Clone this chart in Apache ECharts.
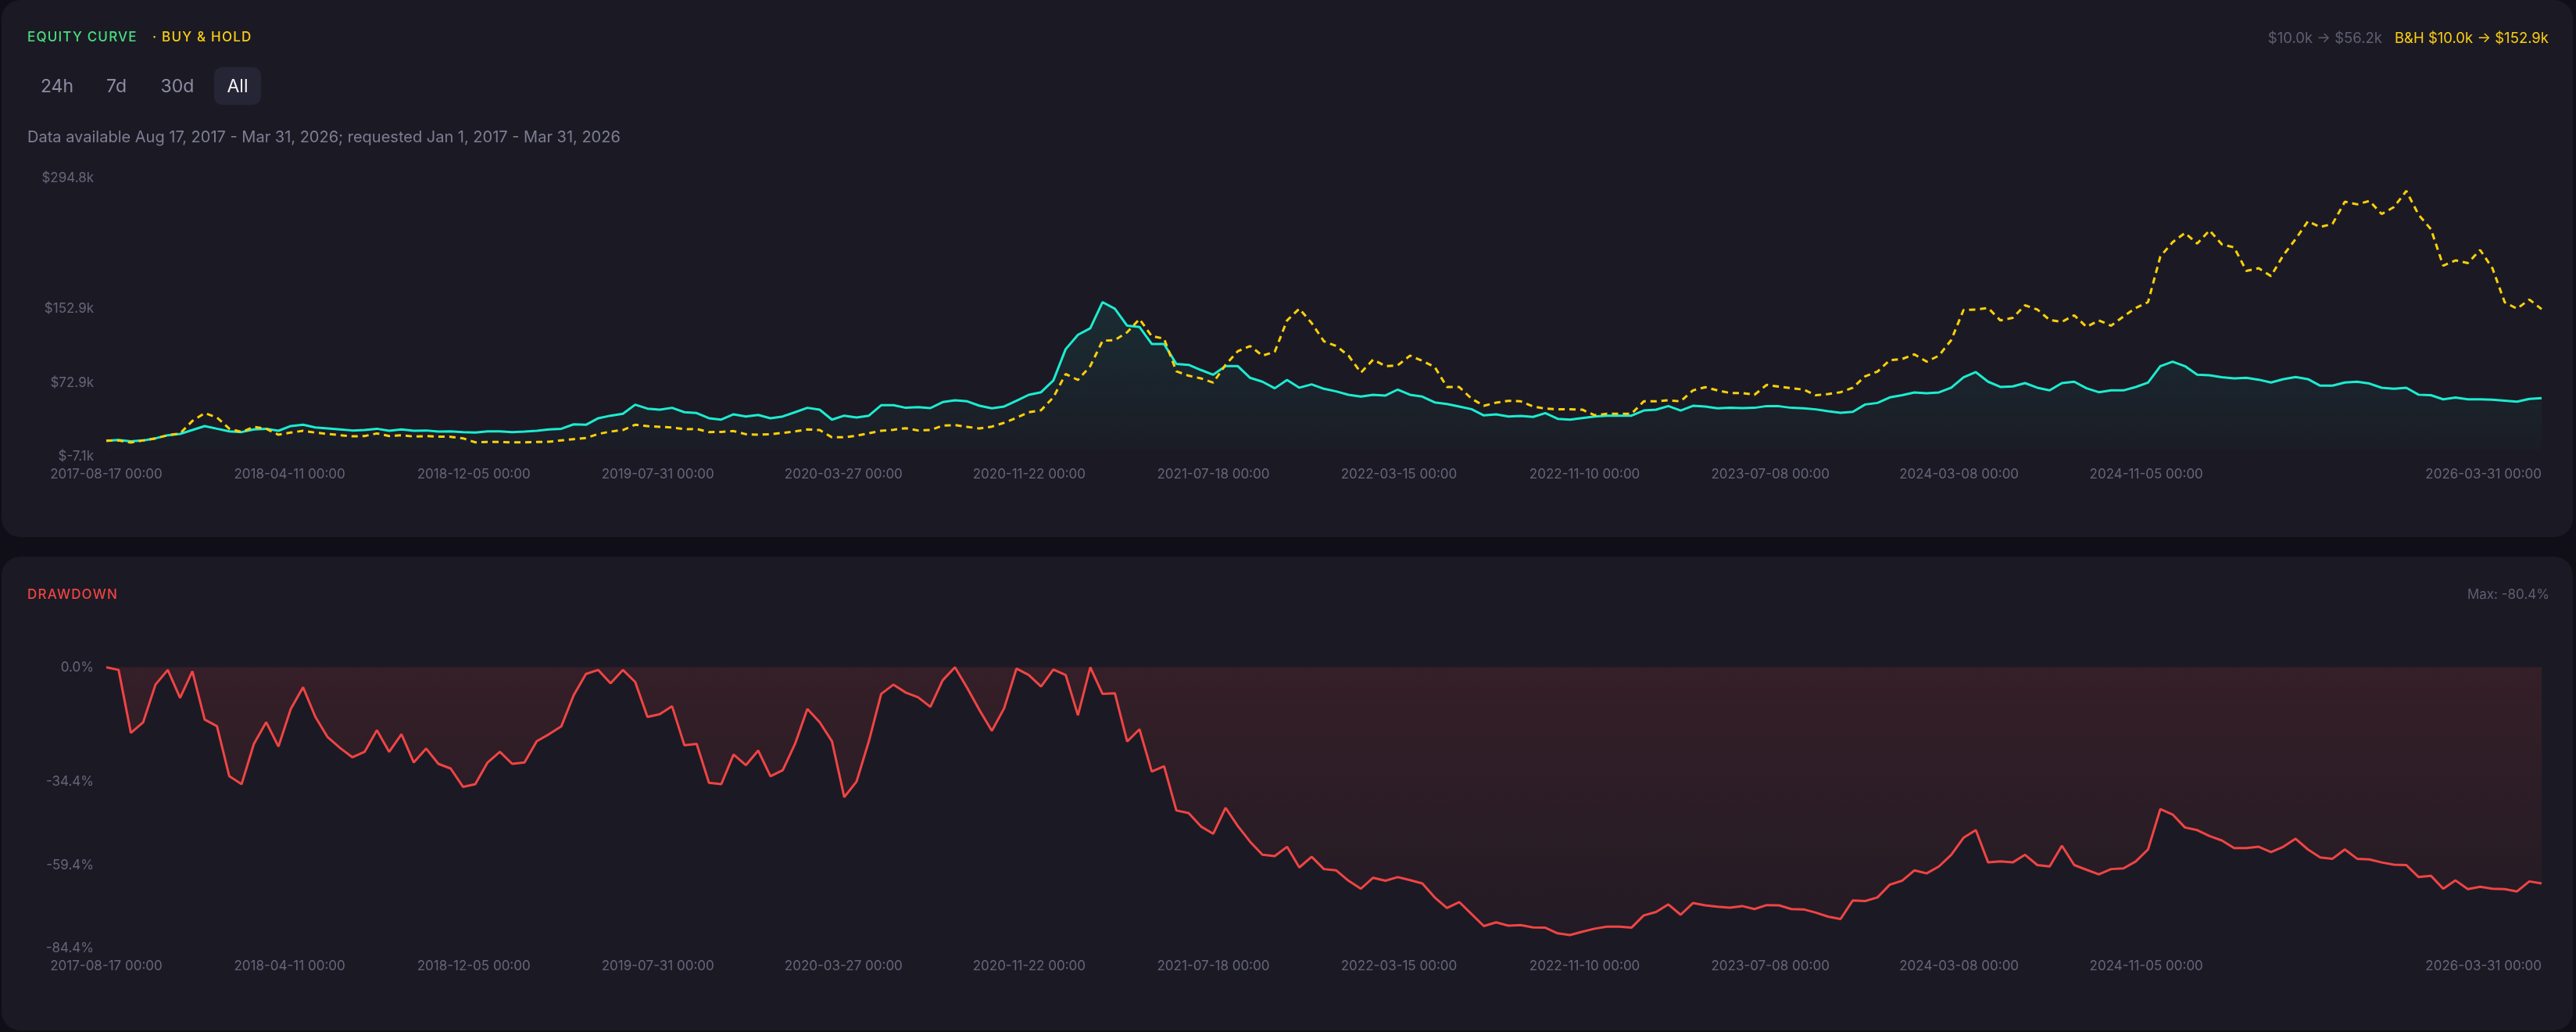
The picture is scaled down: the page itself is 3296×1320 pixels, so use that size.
<!DOCTYPE html>
<html><head><meta charset="utf-8">
<script src="https://cdn.jsdelivr.net/npm/echarts@6/dist/echarts.min.js"></script>
<style>
html,body{margin:0;padding:0;background:#100f17;width:3296px;height:1320px;overflow:hidden;font-family:Inter,'Noto Sans',sans-serif;}
.card{position:absolute;left:2px;width:3290px;background:#1b1a24;border-radius:24px;}
#card1{top:0;height:687px;}
#card2{top:712px;height:606px;}
.t{position:absolute;white-space:nowrap;}
#chart{position:absolute;left:0;top:0;width:3296px;height:1320px;}
.btn{position:absolute;top:86px;height:48px;line-height:48px;font-size:23px;color:#8d8ca3;text-align:center;}
</style></head><body>
<div class="card" id="card1"></div>
<div class="card" id="card2"></div>
<div id="chart"></div>
<div class="t" style="left:35px;top:35px;font-size:17px;line-height:24px;letter-spacing:1.2px;color:#4ade80;font-weight:500">EQUITY CURVE</div>
<div class="t" style="left:195px;top:35px;font-size:17px;line-height:24px;letter-spacing:1.2px;color:#facc15;font-weight:500">· BUY &amp; HOLD</div>
<div class="btn" style="left:40px;width:66px">24h</div>
<div class="btn" style="left:124px;width:50px">7d</div>
<div class="btn" style="left:194px;width:66px">30d</div>
<div class="btn" style="left:274px;width:60px;background:#262535;border-radius:10px;color:#f2f2f7">All</div>
<div class="t" style="left:35px;top:161px;font-size:20px;line-height:28px;color:#7e7d92">Data available Aug 17, 2017 - Mar 31, 2026; requested Jan 1, 2017 - Mar 31, 2026</div>
<div class="t" style="right:35px;top:34px;font-size:18.5px;line-height:28px;display:flex;gap:16px"><span style="color:#5f5e73">$10.0k → $56.2k</span><span style="color:#facc15">B&amp;H $10.0k → $152.9k</span></div>
<div class="t" style="left:35px;top:748px;font-size:17px;line-height:24px;letter-spacing:1.2px;color:#ef4444;font-weight:500">DRAWDOWN</div>
<div class="t" style="right:34px;top:748px;font-size:17px;line-height:24px;color:#5f5e73">Max: -80.4%</div>
<script>
// Read-off values, evenly sampled from 2017-08-17 to 2026-03-31 (199 samples)
const equity = [
10.0,11.0,9.5,10.4,12.7,16.1,17.5,21.7,26.0,23.1,20.3,19.5,22.3,23.1,20.9,26.0,27.4,24.5,23.4,22.3,
21.2,21.7,23.1,20.9,22.3,20.9,21.2,20.0,20.3,19.5,18.9,20.3,20.3,19.5,20.0,20.9,22.3,23.1,27.9,27.4,
34.5,37.3,39.3,49.2,44.9,43.8,45.8,41.0,40.1,34.5,33.0,38.7,36.4,38.1,34.5,36.4,41.0,45.8,43.8,33.0,
37.3,35.3,37.3,48.6,48.6,45.8,46.6,45.5,52.0,54.0,52.8,48.0,45.2,47.2,53.4,59.9,62.7,75.5,109.4,125.0,
132.1,160.4,153.3,134.9,133.5,115.1,115.1,93.3,92.4,86.8,81.7,91.0,91.0,78.3,74.1,67.0,76.0,67.6,71.2,66.4,
63.6,59.9,57.9,59.9,59.1,65.6,59.9,57.9,51.7,50.0,47.2,44.3,37.6,38.7,36.4,37.0,35.9,40.1,33.9,33.0,
34.7,36.4,37.3,37.3,37.3,42.9,43.8,47.7,42.9,48.0,47.2,45.2,45.8,45.5,45.8,47.7,47.5,45.8,45.2,44.1,
42.1,40.4,41.5,49.4,51.1,57.1,59.4,62.5,61.6,62.5,67.6,78.9,84.5,74.1,68.4,69.0,72.6,67.6,64.7,72.6,
74.1,67.0,62.7,64.7,64.7,68.4,73.2,91.0,95.9,91.0,81.7,81.1,78.9,77.7,78.3,76.3,73.2,76.9,79.1,76.9,
69.8,69.8,73.2,74.1,72.1,67.5,66.5,67.5,60.0,59.5,55.0,57.0,55.0,55.0,54.5,53.5,52.5,55.5,56.2
];
const buyHold = [
10.0,10.4,8.1,10.4,12.7,16.1,18.0,31.6,40.1,35.3,23.1,19.5,25.1,23.1,16.6,18.9,20.9,18.9,17.5,16.1,
14.9,15.2,18.0,15.2,16.1,14.6,15.2,14.6,14.4,12.7,8.4,8.7,8.7,8.4,8.4,8.7,9.0,10.4,11.8,13.0,
17.5,20.0,21.7,27.4,26.0,25.1,24.5,22.6,22.8,19.5,19.7,20.6,17.2,16.6,17.2,18.6,20.3,22.3,21.7,13.8,
13.8,15.5,18.3,20.9,22.0,23.7,21.2,21.7,26.5,27.1,25.1,23.4,25.4,29.6,35.0,41.0,43.2,57.1,82.5,76.0,
91.0,118.5,119.3,127.8,142.0,123.6,120.8,85.4,80.6,77.7,73.2,92.4,107.2,112.8,102.4,106.6,140.6,153.3,137.7,117.9,
112.8,102.4,83.9,98.1,91.0,91.9,102.4,96.7,90.2,68.4,68.4,55.7,48.0,51.4,53.4,52.8,47.2,44.9,44.3,44.3,
43.8,37.8,39.3,39.3,39.3,52.8,52.8,54.0,52.8,64.7,68.1,64.7,61.9,61.9,59.9,70.7,68.7,67.0,65.6,59.4,
60.8,62.7,67.6,80.0,85.1,97.5,98.7,103.8,95.9,102.4,119.3,151.9,152.4,154.1,140.6,143.4,157.0,152.4,141.1,139.1,
146.2,133.5,140.6,134.9,144.8,154.1,160.4,209.9,225.5,235.4,224.0,238.2,223.2,219.8,194.3,197.2,188.7,211.3,228.8,248.1,
241.9,245.3,269.3,266.5,270.2,256.0,263.6,281.0,255.2,239.6,200.0,205.7,202.8,217.0,197.2,160.3,153.3,163.2,152.9
];
const drawdown = [
0,-0.8,-19.7,-16.5,-5.2,-0.8,-9.2,-1.2,-15.7,-17.7,-32.7,-35.1,-23.0,-16.5,-23.8,-12.5,-6.0,-14.9,-21.0,-24.2,
-27.0,-25.4,-18.9,-25.4,-20.1,-28.6,-24.4,-29.0,-30.4,-35.9,-35.1,-28.6,-25.4,-29.0,-28.6,-22.2,-20.1,-17.7,-8.4,-2.0,
-0.8,-4.8,-0.8,-4.4,-14.9,-14.1,-11.7,-23.4,-23.0,-34.7,-35.1,-26.2,-29.4,-25.0,-32.7,-30.9,-23.0,-12.5,-16.5,-22.2,
-39.0,-34.3,-22.2,-8.0,-5.2,-7.6,-9.0,-11.9,-3.9,0,-6.2,-12.9,-19.1,-12.3,-0.4,-2.3,-5.8,-0.7,-2.3,-14.4,
0,-8.0,-7.8,-22.3,-18.6,-31.3,-29.7,-43.0,-43.8,-47.8,-50.0,-42.2,-47.7,-52.4,-56.3,-56.7,-53.9,-60.1,-56.9,-60.6,
-61.0,-64.1,-66.5,-63.2,-64.1,-63.0,-63.9,-64.9,-69.1,-72.3,-70.5,-74.1,-77.7,-76.6,-77.6,-77.4,-78.1,-78.2,-79.9,-80.4,
-79.4,-78.5,-77.9,-77.9,-78.2,-74.5,-73.5,-71.2,-74.3,-70.8,-71.5,-71.9,-72.2,-71.7,-72.6,-71.4,-71.5,-72.6,-72.7,-73.7,
-74.9,-75.6,-70.0,-70.2,-69.1,-65.3,-64.1,-61.0,-61.9,-59.8,-56.3,-51.2,-48.9,-58.6,-58.3,-58.6,-56.3,-59.4,-59.8,-53.6,
-59.4,-60.8,-62.2,-60.6,-60.4,-58.3,-54.7,-42.6,-44.2,-48.1,-48.9,-50.7,-52.0,-54.3,-54.3,-53.9,-55.5,-53.9,-51.5,-54.7,
-57.1,-57.5,-54.7,-57.5,-57.7,-58.6,-59.3,-59.4,-63.0,-62.6,-66.5,-64.0,-66.6,-65.9,-66.5,-66.6,-67.3,-64.3,-64.9
];
const startDate = '2017-08-17';
const endDate = '2026-03-31';
const xTickDates = ['2017-08-17','2018-04-11','2018-12-05','2019-07-31','2020-03-27','2020-11-22','2021-07-18',
  '2022-03-15','2022-11-10','2023-07-08','2024-03-08','2024-11-05','2026-03-31'];
const equityTicks = [-7.1, 72.9, 152.9, 294.8];
const drawdownTicks = [-84.4, -59.4, -34.4, 0];

function dayStart(s){ const p = s.split('-').map(Number); return new Date(p[0], p[1]-1, p[2]).getTime(); }
function pad(n){ return (n < 10 ? '0' : '') + n; }
function fmtDate(v){ const d = new Date(v + 3600000); return d.getFullYear() + '-' + pad(d.getMonth()+1) + '-' + pad(d.getDate()) + ' 00:00'; }

const T0 = dayStart(startDate), T1 = dayStart(endDate);
const n = equity.length;
const times = equity.map((_, i) => T0 + (T1 - T0) * i / (n - 1));
const tickTimes = xTickDates.map(dayStart);

const labelColor = '#66657a';
function xAxis(gridIndex){
  return {
    type: 'value', gridIndex, min: T0, max: T1,
    axisLine: {show: false}, axisTick: {show: false}, splitLine: {show: false},
    axisLabel: {
      customValues: tickTimes, formatter: v => fmtDate(v), color: labelColor,
      fontSize: 17, fontFamily: 'Inter', margin: 14, alignMaxLabel: 'right', showMinLabel: true, showMaxLabel: true
    }
  };
}
const chart = echarts.init(document.getElementById('chart'), null, {renderer: 'canvas'});
chart.setOption({
  animation: false,
  backgroundColor: 'transparent',
  grid: [
    {left: 136, top: 228, width: 3116, height: 356},
    {left: 136, top: 853.5, width: 3116, height: 359.5}
  ],
  xAxis: [xAxis(0), xAxis(1)],
  yAxis: [
    {type: 'value', gridIndex: 0, min: -7.1, max: 294.8,
     axisLine: {show: false}, axisTick: {show: false}, splitLine: {show: false},
     axisLabel: {customValues: equityTicks, formatter: v => '$' + v.toFixed(1) + 'k', color: labelColor, fontSize: 17, fontFamily: 'Inter', margin: 16}},
    {type: 'value', gridIndex: 1, min: -84.4, max: 0,
     axisLine: {show: false}, axisTick: {show: false}, splitLine: {show: false},
     axisLabel: {customValues: drawdownTicks, formatter: v => v.toFixed(1) + '%', color: labelColor, fontSize: 17, fontFamily: 'Inter', margin: 16}}
  ],
  series: [
    {name: 'Equity', type: 'line', xAxisIndex: 0, yAxisIndex: 0, showSymbol: false, z: 3,
     data: times.map((t, i) => [t, equity[i]]),
     lineStyle: {color: '#1cecd0', width: 3},
     areaStyle: {color: new echarts.graphic.LinearGradient(0, 0, 0, 1, [
       {offset: 0, color: 'rgba(28,236,208,0.13)'}, {offset: 1, color: 'rgba(28,236,208,0.02)'}])}},
    {name: 'Buy & Hold', type: 'line', xAxisIndex: 0, yAxisIndex: 0, showSymbol: false, z: 4,
     data: times.map((t, i) => [t, buyHold[i]]),
     lineStyle: {color: '#fcd00a', width: 3, type: [8, 6]}},
    {name: 'Drawdown', type: 'line', xAxisIndex: 1, yAxisIndex: 1, showSymbol: false, z: 3,
     data: times.map((t, i) => [t, drawdown[i]]),
     lineStyle: {color: '#f04444', width: 3},
     areaStyle: {color: new echarts.graphic.LinearGradient(0, 0, 0, 1, [
       {offset: 0, color: 'rgba(239,68,68,0.18)'}, {offset: 1, color: 'rgba(239,68,68,0.05)'}])}}
  ]
});
</script>
</body></html>
